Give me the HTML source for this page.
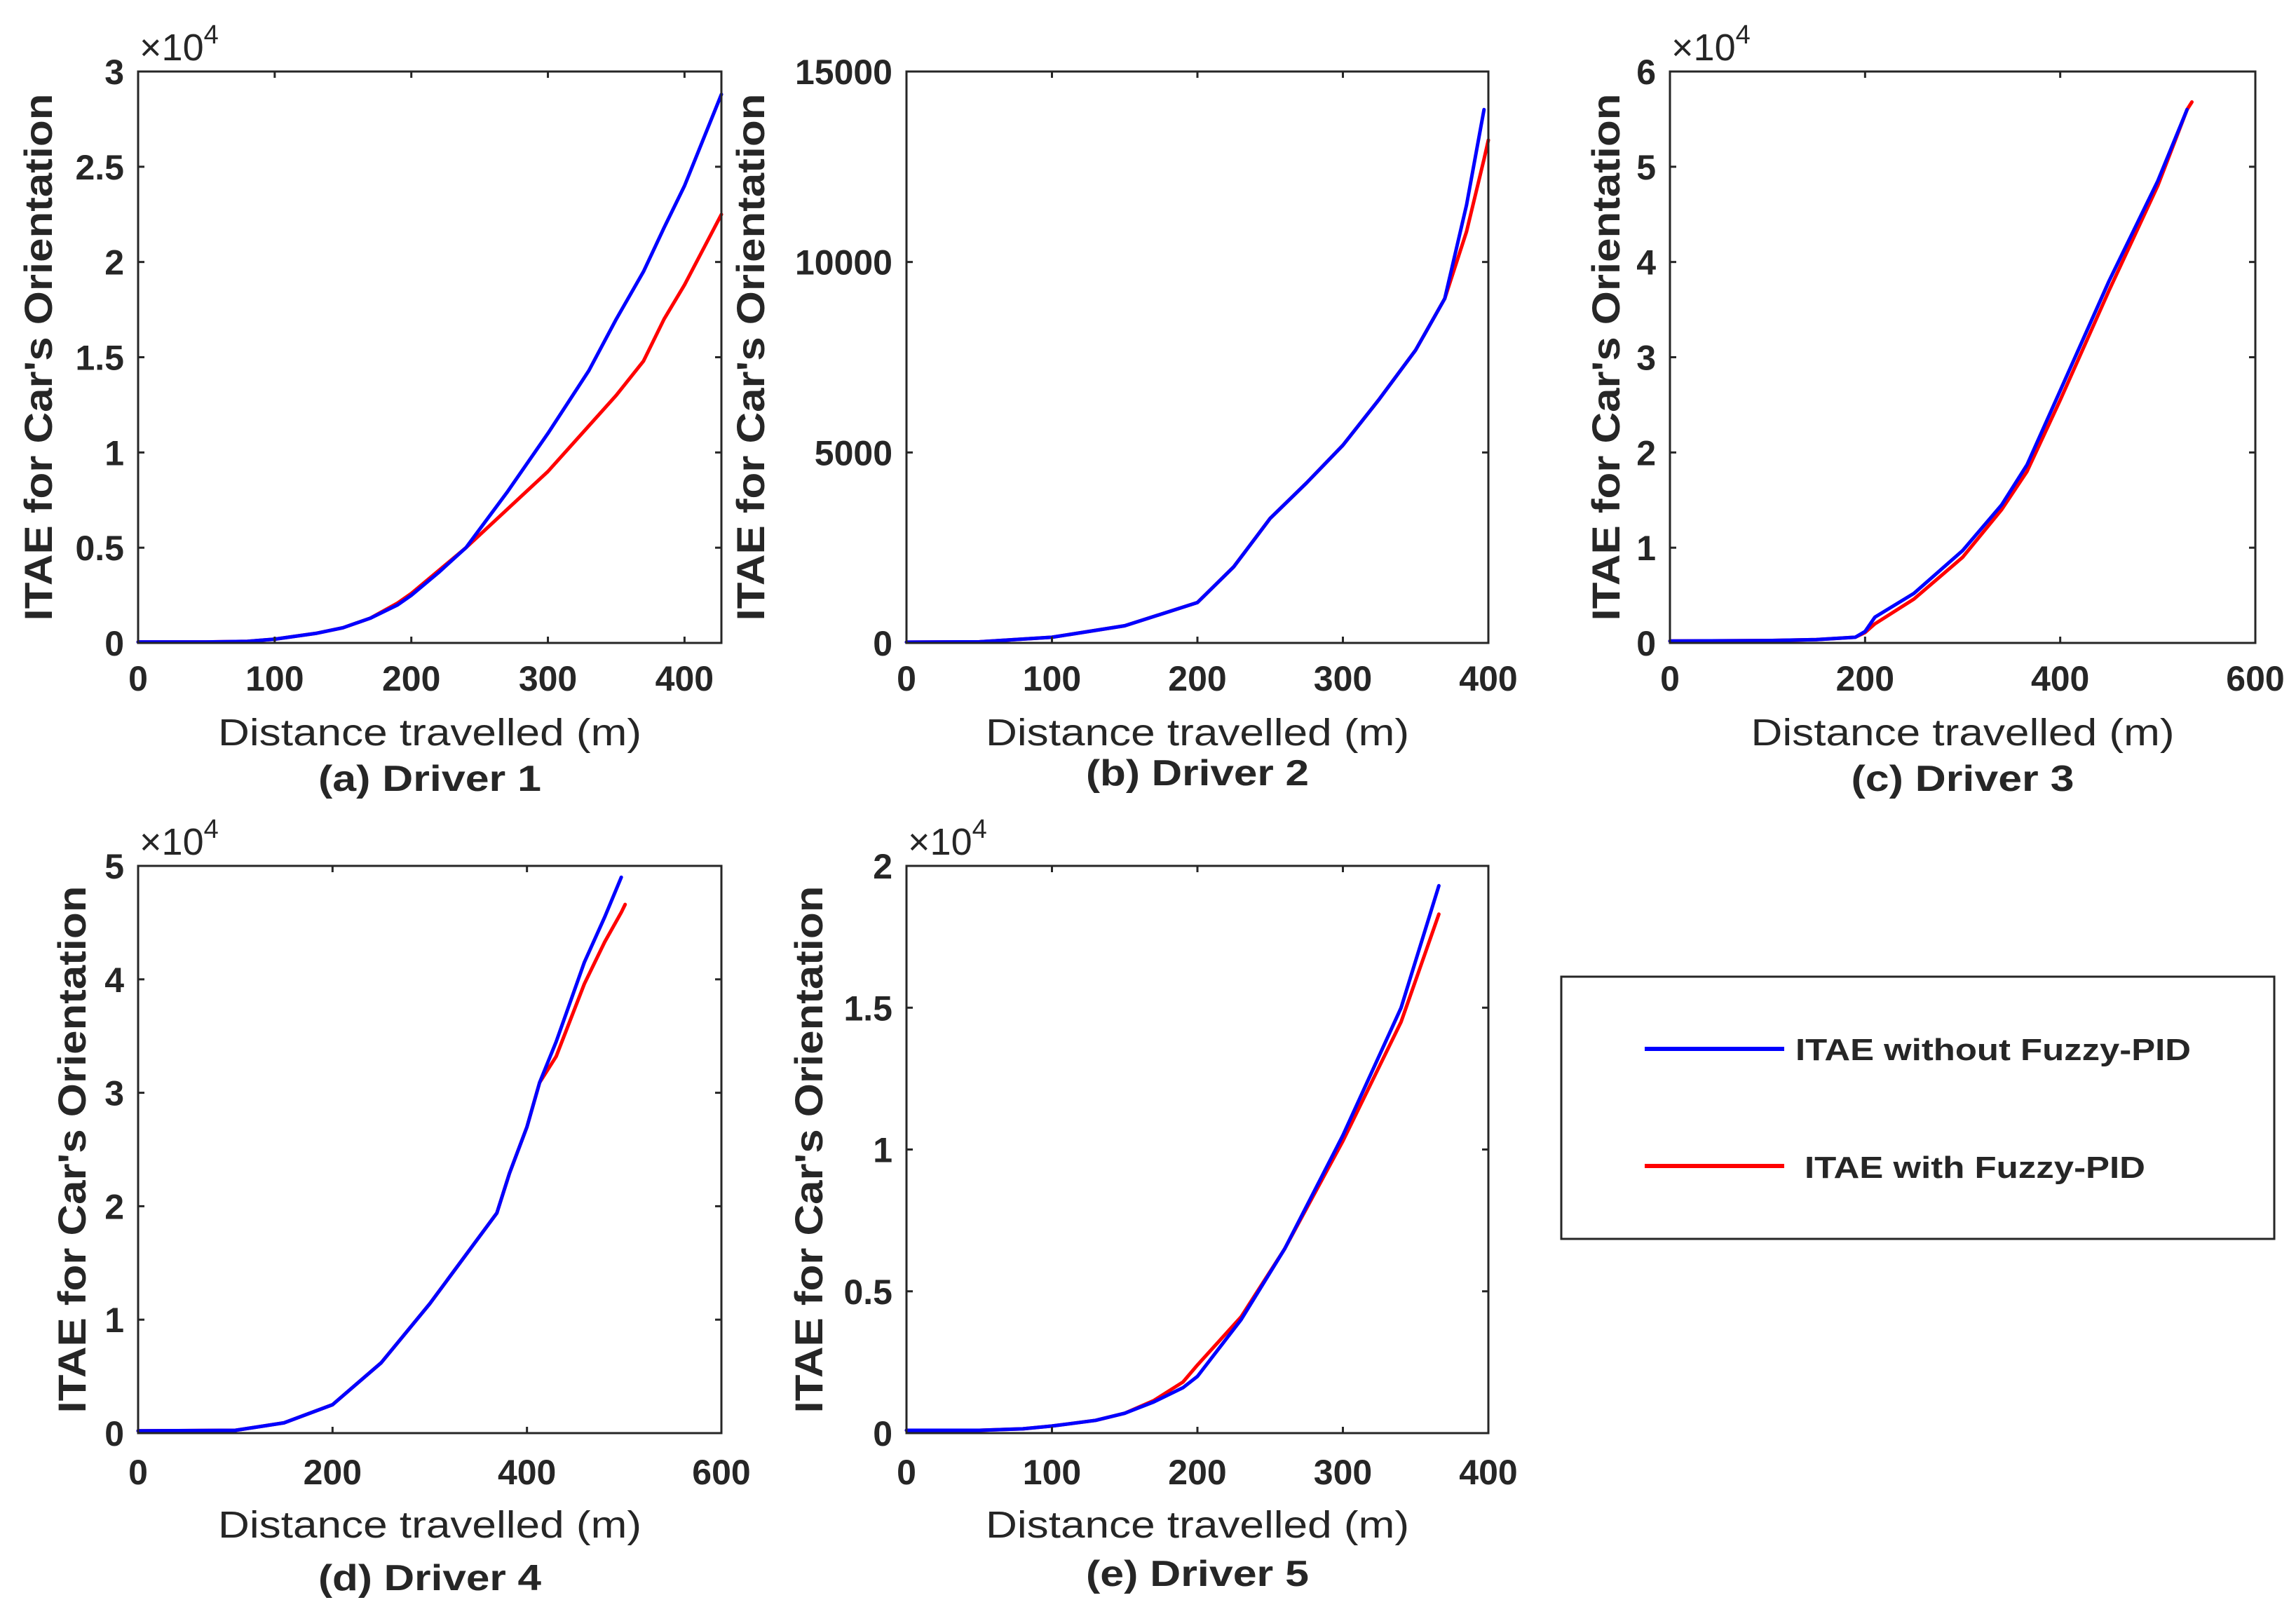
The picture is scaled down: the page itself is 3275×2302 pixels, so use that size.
<!DOCTYPE html>
<html><head><meta charset="utf-8"><style>
html,body{margin:0;padding:0;background:#fff;}
svg{display:block;}
text{font-family:"Liberation Sans",Arial,sans-serif;fill:#262626;}
</style></head><body>
<svg id="fig" width="3275" height="2302" viewBox="0 0 3275 2302" xmlns="http://www.w3.org/2000/svg">
<g id="panels"></g>
<g>
<rect x="2227" y="1393" width="1017" height="374" fill="#fff" stroke="#262626" stroke-width="3"/>
<line x1="2346" y1="1496" x2="2545" y2="1496" stroke="#0000ff" stroke-width="6"/>
<text x="2561" y="1512" font-size="44" font-weight="bold" fill="#111" textLength="564" lengthAdjust="spacingAndGlyphs">ITAE without Fuzzy-PID</text>
<line x1="2346" y1="1663" x2="2545" y2="1663" stroke="#ff0000" stroke-width="6"/>
<text x="2574" y="1680" font-size="44" font-weight="bold" fill="#111" textLength="486" lengthAdjust="spacingAndGlyphs">ITAE with Fuzzy-PID</text>
</g>
</svg>
<script>
// Panel (a) Driver 1
const aX=[0,50,80,100,130,150,170,190,200,220,240,270,300,330,350,370,385,400,427];
const aBlue=[50,50,80,200,500,800,1300,2000,2500,3700,5000,7900,11000,14300,17000,19500,21800,24000,28800];
const aRed=[50,50,80,200,500,800,1300,2100,2600,3800,5000,7000,9000,11400,13000,14800,17000,18800,22500];
// Panel (b) Driver 2
const bX=[0,50,100,150,200,225,250,275,300,325,350,370,385,397,400];
const bBlue=[20,30,150,450,1060,2000,3270,4200,5190,6400,7690,9040,11500,14000,null];
const bRed=[20,30,150,450,1060,2000,3270,4200,5190,6400,7690,9040,10800,12700,13200];
// Panel (c) Driver 3
const cX=[0,100,150,190,200,210,250,300,340,366,400,450,500,530,535];
const cBlue=[200,250,350,600,1200,2700,5200,9700,14500,18700,26500,38000,48500,56000,null];
const cRed=[200,250,350,600,1100,2000,4600,9000,14000,18000,25500,37000,48000,56000,56800];
// Panel (d) Driver 4
const dX=[0,100,150,200,250,300,344,369,382,400,413,430,459,480,497,501];
const dBlue=[200,250,900,2500,6200,11400,16500,19400,22900,27000,30900,34500,41500,45500,49000,null];
const dRed=[200,250,900,2500,6200,11400,16500,19400,22900,27000,30900,33200,39600,43300,45900,46600];
// Panel (e) Driver 5
const eX=[0,50,80,100,130,150,170,190,200,230,260,300,340,366];
const eBlue=[100,100,150,250,450,700,1100,1600,2000,4000,6500,10500,15000,19300];
const eRed=[100,100,150,250,450,700,1150,1800,2400,4100,6500,10300,14500,18300];

const xTicksA=[0,100,200,300,400], xTicksB=[0,100,200,300,400], xTicksC=[0,200,400,600];
const yTicksA=["0","0.5","1","1.5","2","2.5","3"];
const yTicksB=["0","5000","10000","15000"];
const yTicksC=["0","1","2","3","4","5","6"];
const yTicksD=["0","1","2","3","4","5"];
const yTicksE=["0","0.5","1","1.5","2"];

const NS="http://www.w3.org/2000/svg";
const root=document.getElementById('panels');
function mk(tag,attrs,parent){const e=document.createElementNS(NS,tag);for(const k in attrs)e.setAttribute(k,attrs[k]);parent.appendChild(e);return e;}

function panel(p){
  const g=mk('g',{},root);
  
  
  const L=p.box[0],R=p.box[1],T=p.box[2],B=p.box[3];
  const sx=v=>L+(v-0)/(p.xmax)*(R-L);
  const sy=v=>B-(v/p.ymax)*(B-T);
  const series=[[p.red,'#ff0000','series-with-fuzzy'],[p.blue,'#0000ff','series-without-fuzzy']];
  for(const [vals,col,nm] of series){
    let d='';
    for(let i=0;i<p.x.length;i++){ if(vals[i]==null) continue; d+=(d?'L':'M')+sx(p.x[i]).toFixed(1)+','+sy(vals[i]).toFixed(1);}
    const path=mk('path',{d:d,fill:'none',stroke:col,'stroke-width':5,'stroke-linejoin':'round','stroke-linecap':'round'},g);
    
    
  }
  const fr=mk('rect',{x:L,y:T,width:R-L,height:B-T,fill:'none',stroke:'#262626','stroke-width':3},g);
  
  
  for(const t of p.xt){
    const X=sx(t);
    mk('line',{x1:X,y1:B,x2:X,y2:B-9,stroke:'#262626','stroke-width':3},g);
    mk('line',{x1:X,y1:T,x2:X,y2:T+9,stroke:'#262626','stroke-width':3},g);
    const tx=mk('text',{x:X,y:p.xty,'font-size':50,'font-weight':'bold','text-anchor':'middle'},g);
    tx.textContent=t;
    
    
  }
  p.yt.forEach((lab,i)=>{
    const Y=B-i/(p.yt.length-1)*(B-T);
    mk('line',{x1:L,y1:Y,x2:L+9,y2:Y,stroke:'#262626','stroke-width':3},g);
    mk('line',{x1:R,y1:Y,x2:R-9,y2:Y,stroke:'#262626','stroke-width':3},g);
    const tx=mk('text',{x:L-20,y:Y+18,'font-size':50,'font-weight':'bold','text-anchor':'end'},g);
    tx.textContent=lab;
    
    
  });
  if(p.exp){
    const ex=mk('text',{x:L+2,y:T-16,'font-size':54},g);
    ex.innerHTML='×10<tspan font-size="38" dy="-24">4</tspan>';
    
    
  }
  const cy=(T+B)/2;
  const yl=mk('text',{x:p.ylx,y:cy,'font-size':56,'font-weight':'bold','text-anchor':'middle',transform:'rotate(-90 '+p.ylx+' '+cy+')',textLength:752,lengthAdjust:'spacingAndGlyphs'},g);
  yl.textContent="ITAE for Car's Orientation";
  
  
  const cx=(L+R)/2;
  const xl=mk('text',{x:cx,y:p.xly,'font-size':54,'text-anchor':'middle',fill:'#333',textLength:604,lengthAdjust:'spacingAndGlyphs'},g);
  xl.textContent='Distance travelled (m)';
  
  
  const cap=mk('text',{x:cx,y:p.capy,'font-size':52,'font-weight':'bold','text-anchor':'middle',fill:'#111',textLength:318,lengthAdjust:'spacingAndGlyphs'},g);
  cap.textContent=p.cap;
  
  
}
panel({id:'a',box:[197,1029,102,917],xmax:427,ymax:30000,x:aX,blue:aBlue,red:aRed,xt:xTicksA,yt:yTicksA,exp:true,ylx:74,cap:'(a) Driver 1',capy:1128,xty:985,xly:1063});
panel({id:'b',box:[1293,2123,102,917],xmax:400,ymax:15000,x:bX,blue:bBlue,red:bRed,xt:xTicksB,yt:yTicksB,exp:false,ylx:1090,cap:'(b) Driver 2',capy:1120,xty:985,xly:1063});
panel({id:'c',box:[2382,3217,102,917],xmax:600,ymax:60000,x:cX,blue:cBlue,red:cRed,xt:xTicksC,yt:yTicksC,exp:true,ylx:2310,cap:'(c) Driver 3',capy:1128,xty:985,xly:1063});
panel({id:'d',box:[197,1029,1235,2044],xmax:600,ymax:50000,x:dX,blue:dBlue,red:dRed,xt:xTicksC,yt:yTicksD,exp:true,ylx:122,cap:'(d) Driver 4',capy:2268,xty:2117,xly:2193});
panel({id:'e',box:[1293,2123,1235,2044],xmax:400,ymax:20000,x:eX,blue:eBlue,red:eRed,xt:xTicksB,yt:yTicksE,exp:true,ylx:1173,cap:'(e) Driver 5',capy:2262,xty:2117,xly:2193});
</script>
</body></html>
